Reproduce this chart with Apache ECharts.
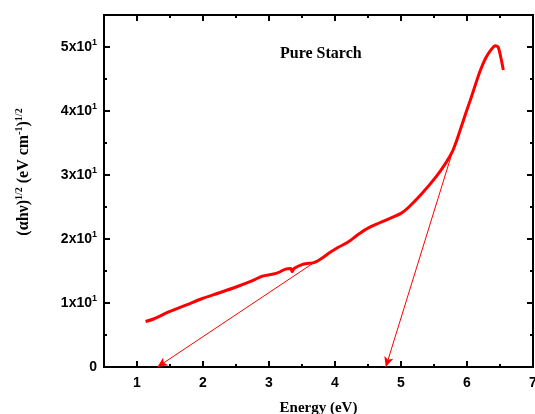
<!DOCTYPE html>
<html>
<head>
<meta charset="utf-8">
<script src="https://cdn.jsdelivr.net/npm/echarts@6/dist/echarts.min.js"></script>
<style>
  html, body { margin: 0; padding: 0; background: #fff; }
  #main { width: 535px; height: 414px; }
</style>
</head>
<body>
<div id="main"></div>
<script>
// 数据: 光子能量 (eV) 和 (αhν)^1/2
var energy = [1.13, 1.25, 1.48, 1.75, 1.99, 2.25, 2.5, 2.75, 2.9, 3.05, 3.15, 3.25, 3.33, 3.35, 3.38, 3.5, 3.6, 3.68, 3.8, 3.91,
  4.05, 4.21, 4.35, 4.5, 4.67, 4.85, 5.0, 5.12, 5.3, 5.53, 5.68, 5.78, 5.83, 5.88, 5.98, 6.06, 6.13, 6.2, 6.28, 6.36, 6.43,
  6.47, 6.49, 6.52, 6.55];
var absorb = [7.1, 7.5, 8.6, 9.7, 10.7, 11.6, 12.5, 13.5, 14.2, 14.5, 14.8, 15.3, 15.4, 14.9, 15.4, 16.0, 16.2, 16.3, 17.0, 17.8,
  18.7, 19.6, 20.7, 21.7, 22.5, 23.3, 24.0, 25.0, 26.9, 29.7, 31.9, 33.7, 35.0, 36.5, 39.6, 42.0, 44.2, 46.3, 48.2, 49.5, 50.2,
  50.0, 49.4, 48.0, 46.4];

// 两条切线 (起点, 箭头终点)
var fit1 = [[3.68, 16.3], [1.31, 0]];
var fit2 = [[5.8, 34.3], [4.77, 0]];

// 刻度范围
var xRange = [0.5, 7];
var yRange = [0, 55];
var yStep = 10;

var curve = [];
for (var i = 0; i < energy.length; i++) {
  curve.push([energy[i], absorb[i]]);
}

var oChart = echarts.init(document.getElementById('main'));

var black = '#000';
var sans = 'Liberation Sans, Arial';
var serif = 'Liberation Serif, Times New Roman';
var tickFont = { fontFamily: sans, fontWeight: 'bold', fontSize: 14, color: black };

// interval 为空时主刻度在整数上; 次刻度轴用 0.5 的间隔
function xAx(pos, interval, len, showLabel) {
  var ax = {
    type: 'value', position: pos, min: xRange[0], max: xRange[1], splitNumber: 6,
    axisLine: { show: true, onZero: false, lineStyle: { color: black, width: 2 } },
    axisTick: { show: true, inside: true, length: len, lineStyle: { color: black, width: 2 } },
    axisLabel: { show: false },
    splitLine: { show: false }
  };
  if (interval) ax.interval = interval;
  if (showLabel) {
    ax.axisLabel = Object.assign({
      show: true, margin: 9,
      formatter: function (v) { return v % 1 === 0 ? String(v) : ''; }
    }, tickFont);
  }
  return ax;
}

function yAx(pos, interval, len, showLabel) {
  var ax = {
    type: 'value', position: pos, min: yRange[0], max: yRange[1], interval: interval,
    axisLine: { show: true, onZero: false, lineStyle: { color: black, width: 2 } },
    axisTick: { show: true, inside: true, length: len, lineStyle: { color: black, width: 2 } },
    axisLabel: { show: false },
    splitLine: { show: false }
  };
  if (showLabel) {
    ax.axisLabel = {
      show: true, margin: 7,
      formatter: function (v) {
        if (v === 0) return '{b|0}';
        if (v % yStep !== 0) return '';
        return '{b|' + (v / 10) + 'x10}{s|1}';
      },
      rich: {
        b: tickFont,
        s: { fontFamily: sans, fontWeight: 'bold', fontSize: 9, color: black, verticalAlign: 'top', padding: [0, 0, 9, 0] }
      }
    };
  }
  return ax;
}

var xMain = xAx('bottom', null, 6, true);
xMain.name = 'Energy (eV)';
xMain.nameLocation = 'middle';
xMain.nameGap = 34;
xMain.nameTextStyle = { fontFamily: serif, fontWeight: 'bold', fontSize: 15, color: black };

var yMain = yAx('left', yStep, 6, true);
yMain.name = '{n|(\u03b1h\u03bd)}{s|1/2}{n| (eV cm}{s|-1}{n|)}{s|1/2}';
yMain.nameLocation = 'middle';
yMain.nameGap = 70;
yMain.nameTextStyle = {
  padding: [0, 0, 0, 38],
  rich: {
    n: { fontFamily: serif, fontWeight: 'bold', fontSize: 16, color: black },
    s: { fontFamily: serif, fontWeight: 'bold', fontSize: 10, color: black, padding: [0, 0, 10, 0] }
  }
};

var chartopt = {
  backgroundColor: '#fff',
  animation: false,
  title: {
    text: 'Pure Starch',
    left: 275,
    top: 41,
    textStyle: { fontFamily: serif, fontWeight: 'bold', fontSize: 16, color: black }
  },
  grid: { left: 104, right: 2, top: 15, bottom: 47, outerBoundsMode: 'none', containLabel: false },
  xAxis: [
    xMain,
    xAx('bottom', 0.5, 3, false),
    xAx('top', null, 6, false),
    xAx('top', 0.5, 3, false)
  ],
  yAxis: [
    yMain,
    yAx('left', yStep / 2, 3, false),
    yAx('right', yStep, 6, false),
    yAx('right', yStep / 2, 3, false)
  ],
  series: [{
    name: 'Pure Starch',
    type: 'line',
    data: curve,
    smooth: 0.3,
    showSymbol: false,
    lineStyle: { color: '#ff0000', width: 3 },
    markLine: {
      silent: true,
      symbol: ['none', 'arrow'],
      symbolSize: [7, 10],
      label: { show: false },
      lineStyle: { color: '#ff0000', width: 1, type: 'solid' },
      data: [
        [{ coord: fit1[0] }, { coord: fit1[1] }],
        [{ coord: fit2[0] }, { coord: fit2[1] }]
      ]
    }
  }]
};

oChart.setOption(chartopt);
</script>
</body>
</html>
